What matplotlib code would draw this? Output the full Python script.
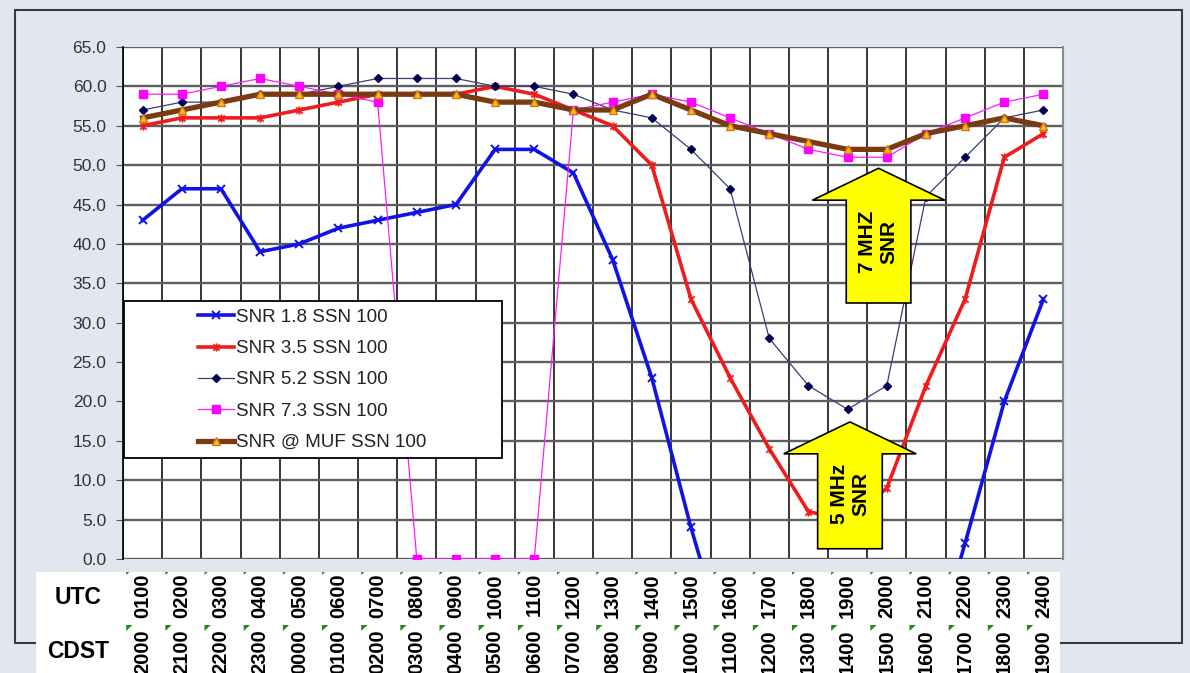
import numpy as np
import matplotlib
matplotlib.use('Agg')
import matplotlib.pyplot as plt
import matplotlib.transforms as mtransforms
from matplotlib.patches import Rectangle, FancyArrow, Polygon
from matplotlib.path import Path

plt.rcParams['font.family'] = ['Liberation Sans', 'DejaVu Sans']

# hours
utc = ['0100', '0200', '0300', '0400', '0500', '0600', '0700', '0800', '0900', '1000', '1100', '1200',
       '1300', '1400', '1500', '1600', '1700', '1800', '1900', '2000', '2100', '2200', '2300', '2400']
cdst = ['2000', '2100', '2200', '2300', '0000', '0100', '0200', '0300', '0400', '0500', '0600', '0700',
        '0800', '0900', '1000', '1100', '1200', '1300', '1400', '1500', '1600', '1700', '1800', '1900']

# SNR values (dB)
snr_18 = [43, 47, 47, 39, 40, 42, 43, 44, 45, 52, 52, 49,
          38, 23, 4, -13, -25, -30, -30, -25, -15, 2, 20, 33]
snr_35 = [55, 56, 56, 56, 57, 58, 59, 59, 59, 60, 59, 57,
          55, 50, 33, 23, 14, 6, 5, 9, 22, 33, 51, 54]
snr_52 = [57, 58, 58, 59, 59, 60, 61, 61, 61, 60, 60, 59,
          57, 56, 52, 47, 28, 22, 19, 22, 46, 51, 56, 57]
snr_73 = [59, 59, 60, 61, 60, 59, 58, 0, 0, 0, 0, 57,
          58, 59, 58, 56, 54, 52, 51, 51, 54, 56, 58, 59]
snr_muf = [56, 57, 58, 59, 59, 59, 59, 59, 59, 58, 58, 57,
           57, 59, 57, 55, 54, 53, 52, 52, 54, 55, 56, 55]

labels = ['SNR 1.8 SSN 100', 'SNR 3.5 SSN 100', 'SNR 5.2 SSN 100',
          'SNR 7.3 SSN 100', 'SNR @ MUF SSN 100']

x = np.arange(len(utc))

# excel style "star" marker: x with a vertical bar
star = Path([(-1, -1), (1, 1), (-1, 1), (1, -1), (0, -1.3), (0, 1.3)],
            [Path.MOVETO, Path.LINETO, Path.MOVETO, Path.LINETO, Path.MOVETO, Path.LINETO])

fig = plt.figure(figsize=(11.9, 6.73), dpi=100, facecolor='#e1e6ef')
ax = fig.add_axes([0.1034, 0.1694, 0.7899, 0.7608])
ax.set_facecolor('white')

ax.plot(x, snr_18, color='#1212e6', lw=2.6, marker='x', ms=6, mew=1.4, label=labels[0])
ax.plot(x, snr_35, color='#f01c1c', lw=2.6, marker=star, ms=6, mew=1.2, label=labels[1])
ax.plot(x, snr_52, color='#3c3c78', lw=0.9, marker='D', ms=4.5, mfc='#000050', mec='#000050', label=labels[2])
ax.plot(x, snr_73, color='#ff1aff', lw=0.9, marker='s', ms=6, mfc='#ff00ff', mec='#ff00ff', label=labels[3])
ax.plot(x, snr_muf, color='#7a3a12', lw=3.8, marker='^', ms=6, mfc='#ffc000', mec='#d07a20', mew=1, label=labels[4])

ax.set_xlim(-0.5, len(utc) - 0.5)
ax.set_ylim(0, 65)
ax.set_yticks(np.arange(0, 66, 5))
ax.yaxis.set_major_formatter(matplotlib.ticker.FormatStrFormatter('%.1f'))
ax.set_xticks(x)
ax.set_xticklabels([])
ax.set_xticks(np.arange(-0.5, len(utc), 1), minor=True)
ax.tick_params(axis='x', which='both', length=0)
ax.tick_params(axis='y', length=5, color='#555555', labelsize=12.5, labelcolor='#333333', pad=7)
ax.set_axisbelow(True)
ax.yaxis.grid(True, color='#5e5e5e', lw=1.7)
ax.xaxis.grid(True, which='minor', color='black', lw=1.1)
for s in ['top', 'bottom']:
    ax.spines[s].set_visible(False)
ax.spines['left'].set_color('black')
ax.spines['left'].set_linewidth(1.2)
ax.spines['right'].set_color('#8a8a8a')
ax.spines['right'].set_linewidth(1.5)

# legend box
ax.add_patch(Rectangle((0.001, 0.197), 0.402, 0.307, transform=ax.transAxes,
                       facecolor='white', edgecolor='black', lw=1.3, zorder=6))
leg = ax.legend(loc='upper left', bbox_to_anchor=(0.0798, 0.489), frameon=False, fontsize=13.5,
                handlelength=1.9, handletextpad=0.15, labelspacing=0.76, borderpad=0, borderaxespad=0)
leg.set_zorder(7)
for t in leg.get_texts():
    t.set_color('#222222')

# yellow call-out arrows
arrows = [(18.79, 32.5, 17.1, '7 MHZ\nSNR', 40.3),
          (18.06, 1.3, 16.1, '5 MHz\nSNR', 8.3)]
for ax_x, y0, dy, txt, ty in arrows:
    ax.add_patch(FancyArrow(ax_x, y0, 0, dy, width=1.65, head_width=3.38, head_length=4.05,
                            length_includes_head=True, fc='#ffff00', ec='black', lw=1.2, zorder=8))
    ax.text(ax_x, ty, txt, rotation=90, ha='center', va='center', fontsize=15,
            fontweight='bold', zorder=9, linespacing=1.15)

# outer frame and white label strip
fig.add_artist(Rectangle((15 / 1190, 1 - 643 / 673), 1167 / 1190, 633 / 673, transform=fig.transFigure,
                         facecolor='none', edgecolor='#3a3a3a', lw=1.5, zorder=1))
fig.add_artist(Rectangle((36 / 1190, 0), 1024 / 1190, 101 / 673, transform=fig.transFigure,
                         facecolor='white', edgecolor='none', zorder=2))

blend = mtransforms.blended_transform_factory(ax.transData, fig.transFigure)
for i in range(len(utc)):
    fig.text(i, 1 - 573 / 673, utc[i], transform=blend, rotation=90, ha='center', va='top',
             fontsize=14.5, fontweight='bold', zorder=3)
    fig.text(i, 1 - 629 / 673, cdst[i], transform=blend, rotation=90, ha='center', va='top',
             fontsize=14.5, fontweight='bold', zorder=3)
    x0 = i - 0.5 + 0.08
    fig.add_artist(Polygon([(x0, 1 - 625 / 673), (x0 + 0.16, 1 - 625 / 673), (x0, 1 - 631 / 673)],
                           transform=blend, facecolor='#1f8a1f', edgecolor='none', zorder=3))
    fig.add_artist(Polygon([(x0, 1 - 572 / 673), (x0 + 0.08, 1 - 572 / 673), (x0, 1 - 575 / 673)],
                           transform=blend, facecolor='#1f8a1f', edgecolor='none', zorder=3))

fig.text(78 / 1190, 1 - 597 / 673, 'UTC', ha='center', va='center', fontsize=16.5, fontweight='bold', zorder=3)
fig.text(78 / 1190, 1 - 652 / 673, 'CDST', ha='center', va='center', fontsize=16.5, fontweight='bold', zorder=3)

fig.savefig('out.png', dpi=100, facecolor=fig.get_facecolor())
